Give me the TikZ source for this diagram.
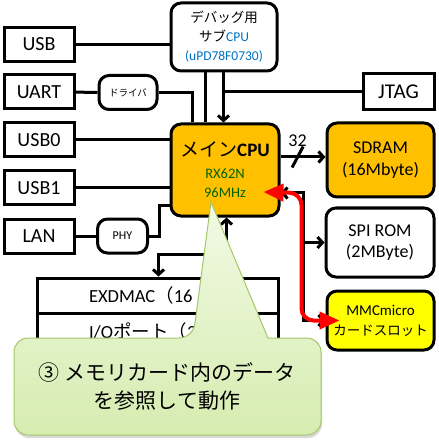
\documentclass[tikz,border=0pt]{standalone}
\usepackage{fontspec}
\setmainfont{Carlito}
\newfontfamily\jp{Noto Sans CJK JP}
\usetikzlibrary{positioning, arrows.meta, shadows}
\definecolor{CpuOrange}{RGB}{255,192,0}
\definecolor{SlotYellow}{RGB}{255,255,0}
\definecolor{SubBlue}{RGB}{0,112,192}
\definecolor{ClockGreen}{RGB}{0,100,0}
\definecolor{NoteTop}{RGB}{242,250,229}
\definecolor{NoteBottom}{RGB}{214,236,176}
\definecolor{NoteEdge}{RGB}{165,198,105}

\begin{document}
\begin{tikzpicture}[x=1pt, y=-1pt,
    >={Straight Barb[length=5pt,width=11pt]},
    wire/.style={line width=3pt},
    blk/.style={draw, line width=3pt, inner sep=0pt, align=center},
    rblk/.style={blk, rounded corners=10pt},
    redbus/.style={draw=red, line width=4pt, rounded corners=12pt,
      {Triangle[length=20pt,width=17pt]}-{Triangle[length=20pt,width=17pt]}}]
      \useasboundingbox (0,0) rectangle (438,443);

      % Left interfaces
      \foreach \name/\txt/\yy in {usb/USB/44.5, uart/UART/92, usb0/USB0/140, usb1/USB1/188, lan/LAN/236}
        \node[blk, minimum width=70pt, minimum height=34pt, font=\fontsize{20}{24}\selectfont] (\name) at (39,\yy) {\txt};
      \node[rblk, minimum width=58pt, minimum height=34pt, font=\jp\fontsize{9.5}{11}\selectfont] (drv) at (128,92.5) {ドライバ};
      \node[rblk, minimum width=50pt, minimum height=34pt, font=\fontsize{12}{14}\selectfont] (phy) at (122.5,236) {PHY};

      % CPUs
      \node[rblk, minimum width=106pt, minimum height=68pt, font=\fontsize{13.5}{19}\selectfont] (dbg) at (224,37)
        {{\jp デバッグ用}\\{\jp サブ}\textcolor{SubBlue}{CPU}\\\textcolor{SubBlue}{(uPD78F0730)}};
      \node[rblk, fill=CpuOrange, minimum width=108pt, minimum height=92pt, font=\fontsize{14.5}{19}\selectfont] (cpu) at (225,170)
        {{\fontsize{19}{22}\selectfont{\jp メイン}\textbf{CPU}}\\[3pt]\textcolor{ClockGreen}{RX62N}\\\textcolor{ClockGreen}{96MHz}};

      % Right side
      \node[blk, minimum width=71pt, minimum height=36pt, font=\fontsize{21}{24}\selectfont] (jtag) at (398.5,92) {JTAG};
      \node[rblk, fill=CpuOrange, minimum width=107pt, minimum height=74pt, font=\fontsize{18}{22}\selectfont] (sdram) at (380.5,160) {SDRAM\\(16Mbyte)};
      \node[rblk, minimum width=108pt, minimum height=69pt, font=\fontsize{18}{21}\selectfont] (spi) at (380,242.5) {SPI ROM\\(2MByte)};
      \node[rblk, fill=SlotYellow, minimum width=107pt, minimum height=59pt, font=\fontsize{15}{20}\selectfont] (mmc) at (380.5,320.5)
        {MMCmicro\\{\jp\fontsize{13.5}{20}\selectfont カードスロット}};

      % Internal peripherals
      \node[blk, minimum width=241pt, minimum height=35pt] (dma) at (157.5,295.5) {};
      \node[blk, minimum width=241pt, minimum height=37pt] (io) at (157.5,331.5) {};
      \node[anchor=west, font=\fontsize{18.5}{22}\selectfont] (dmatxt) at ([xshift=50pt]dma.west) {EXDMAC{\jp（}16};
      \node[anchor=west, font=\fontsize{18.5}{22}\selectfont] (iotxt) at ([xshift=50pt]io.west) {I/O{\jp ポート（}3};

      % Connections
      \draw[wire] (usb) -- (usb -| dbg.west);
      \draw[wire] (uart) -- (drv);
      \draw[wire] (drv) -| ([xshift=23pt]cpu.north west);
      \draw[wire] ([xshift=36pt]dbg.south west) -- ([xshift=36pt]cpu.north west);
      \draw[wire, ->] ([xshift=54pt]dbg.south west) coordinate (dbgout) -- ([xshift=54pt]cpu.north west);
      \draw[wire] (jtag) -- (jtag -| dbgout);
      \draw[wire] (usb0) -- (usb0 -| cpu.west);
      \draw[wire] (usb1) -- (usb1 -| cpu.west);
      \draw[wire] (lan) -- (phy);
      \draw[wire] (phy.east) -- ++(10,0) |- ([yshift=12pt]cpu.south west);
      \draw[wire, <->] ([xshift=57pt]cpu.south west) -- ++(0,37) -| ([xshift=123pt]dma.north west);

      % Buses
      \draw[wire, ->] ([yshift=13pt]cpu.east) -- coordinate[pos=0.38] (tick) ([yshift=3pt]sdram.west);
      \draw[wire] ([shift={(-5.5pt,-10.5pt)}]tick) -- ([shift={(5.5pt,10.5pt)}]tick);
      \node[font=\fontsize{18}{20}\selectfont, above=7pt of tick] (buswidth) {32};
      \draw[wire, <->] ([yshift=-23pt]cpu.east) -- ++(23,0) coordinate (hub) |- (mmc.west);
      \draw[wire, ->] (hub |- spi.west) -- (spi.west);
      \draw[redbus] ([xshift=-17pt,yshift=-22pt]cpu.east) -- ([xshift=-2pt]hub) -- ([xshift=-2pt]hub |- mmc.west) -- ([xshift=14pt]mmc.west);

      % Callout
      \path[draw=NoteEdge, line width=1pt, top color=NoteTop, bottom color=NoteBottom,
        drop shadow={shadow xshift=1pt, shadow yshift=-3pt, opacity=0.3}, rounded corners=14pt]
        (14,386) |- (193,338) [sharp corners] -- (211,202) -- (268,338) [rounded corners=14pt] -| (321,435) -| (14,386) -- cycle;
      \node[font=\jp\fontsize{21}{28}\selectfont, align=center] (memo) at (167,386) {③ メモリカード内のデータ\\を参照して動作};
    \end{tikzpicture}
\end{document}
